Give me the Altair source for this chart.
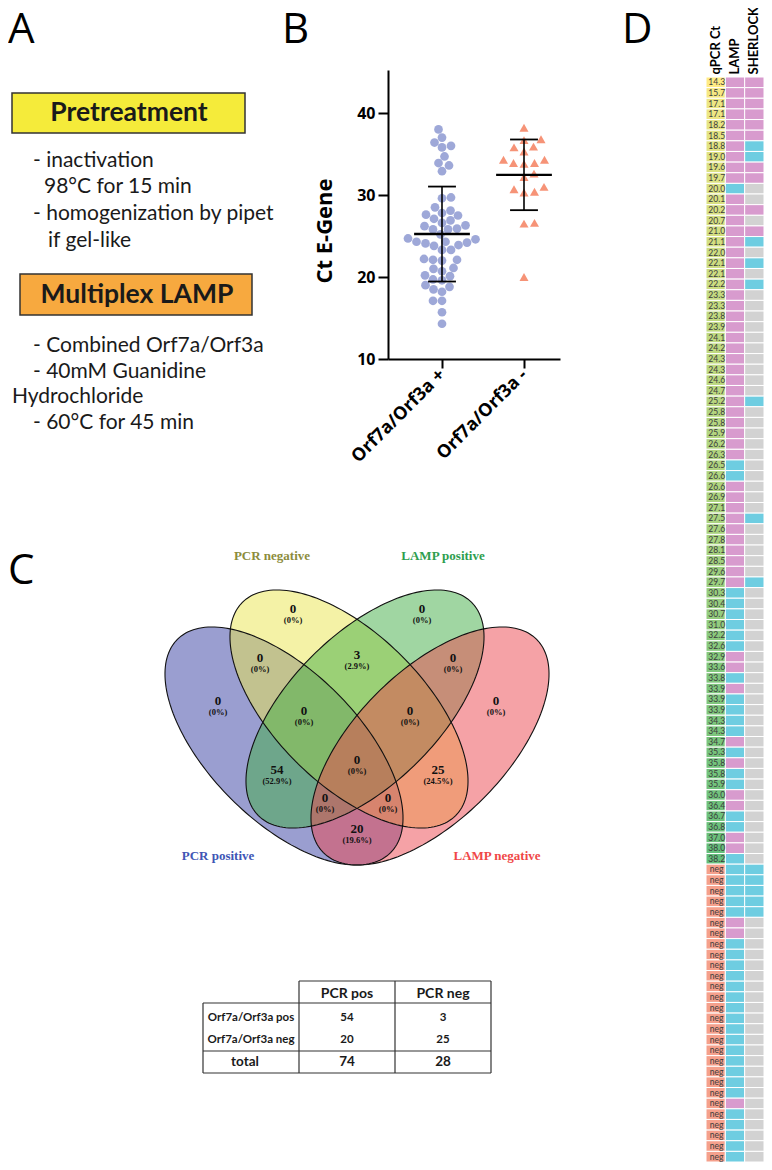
import altair as alt
import numpy as np
import pandas as pd

# ===================== DATA =====================
# Panel D: qPCR Ct values of the PCR-positive samples (top to bottom)
ct_values = [14.3, 15.7, 17.1, 17.1, 18.2, 18.5, 18.8, 19.0, 19.6, 19.7,
             20.0, 20.1, 20.2, 20.7, 21.0, 21.1, 22.0, 22.1, 22.1, 22.2,
             23.3, 23.3, 23.8, 23.9, 24.1, 24.2, 24.3, 24.3, 24.6, 24.7,
             25.2, 25.8, 25.8, 25.9, 26.2, 26.3, 26.5, 26.6, 26.6, 26.9,
             27.1, 27.5, 27.6, 27.8, 28.1, 28.5, 29.6, 29.7,
             30.3, 30.4, 30.7, 31.0, 32.2, 32.6, 32.9, 33.6, 33.8, 33.9,
             33.9, 33.9, 34.3, 34.3, 34.7, 35.3, 35.8, 35.8, 35.9, 36.0,
             36.4, 36.7, 36.8, 37.0, 38.0, 38.2]
n_pcr_negative = 28
# P = positive, N = negative, - = not detected / not tested
lamp_result = list("PPPPPPPPPP" + "NPPPPPPPPP"
                   + "PPPPPPPPPP" + "PPPPPPNNPP"
                   + "PPPPPPPP"
                   + "NNNNNNPPNPNNNNPNPNNPPNNPPN"
                   + "NNNNN" + "PP" + "N" * 15 + "P" + "NNNNN")
sherlock_result = list("PPPPPPNNPP" + "--P-PN-N-N"
                       + "----------" + "N---------"
                       + "-N-----N"
                       + "-" * 26
                       + "NNNNN" + "-" * 23)
heat_columns = ["qPCR Ct", "LAMP", "SHERLOCK"]

# Panel B groups
group_names = ["Orf7a/Orf3a +", "Orf7a/Orf3a -"]

# Panel C: Venn diagram
venn_sets = ["PCR positive", "PCR negative", "LAMP positive", "LAMP negative"]
venn_regions = ["PCRneg", "LAMPpos", "PCRneg&LAMPpos", "PCRpos&PCRneg", "LAMPpos&LAMPneg",
                "PCRpos", "LAMPneg", "PCRpos&PCRneg&LAMPpos", "PCRneg&LAMPpos&LAMPneg",
                "PCRpos&LAMPpos", "all", "PCRneg&LAMPneg", "PCRpos&LAMPpos&LAMPneg",
                "PCRpos&PCRneg&LAMPneg", "PCRpos&LAMPneg"]
venn_counts = [0, 0, 3, 0, 0, 0, 0, 0, 0, 54, 0, 25, 0, 0, 20]

# Panel C: table
table_cols = ["PCR pos", "PCR neg"]
table_rows = ["Orf7a/Orf3a pos", "Orf7a/Orf3a neg", "total"]
table_vals = [[54, 3], [20, 25], [74, 28]]

# Panel A text
pretreat_title = "Pretreatment"
pretreat_lines = ["- inactivation", "98°C for 15 min", "- homogenization by pipet", "if gel-like"]
lamp_title = "Multiplex LAMP"
lamp_lines = ["- Combined Orf7a/Orf3a", "- 40mM Guanidine", "Hydrochloride", "- 60°C for 45 min"]

# ===================== LAYOUT HELPERS =====================
W, H = 756, 1154
M = 8  # page margin


def cxs():
    return alt.Scale(domain=[0, 772], range=[-M, 772 - M], nice=False, zero=False)


def cys():
    return alt.Scale(domain=[0, 1170], range=[-M, 1170 - M], nice=False, zero=False)


def CX(f="x"):
    return alt.X(f"{f}:Q", scale=cxs(), axis=None)


def CY(f="y"):
    return alt.Y(f"{f}:Q", scale=cys(), axis=None)


def text_layer(xs_, ys_, ts, **kw):
    df = pd.DataFrame({"x": xs_, "y": ys_, "t": ts})
    return alt.Chart(df).mark_text(**kw).encode(x=CX(), y=CY(), text="t:N")


canvas = []

# ---- panel letters
canvas.append(text_layer([8, 282, 8, 622], [43, 43, 584, 43], ["A", "B", "C", "D"],
                         font="Open Sans", fontSize=42, align="left", baseline="alphabetic",
                         color="black"))

# ---- panel A
boxes = pd.DataFrame({"x": [12, 20], "x2": [245, 252], "y": [93, 274], "y2": [133, 315],
                      "fill": ["#F5EB3A", "#F7A93F"]})
canvas.append(alt.Chart(boxes).mark_rect(stroke="#333333", strokeWidth=1.5).encode(
    x=CX("x"), x2="x2:Q", y=CY("y"), y2="y2:Q", fill=alt.Fill("fill:N", scale=None)))
canvas.append(text_layer([129, 137], [113, 295], [pretreat_title, lamp_title],
                         font="Lato", fontWeight="bold", fontSize=26.5, color="#1a1a1a"))
canvas.append(text_layer([33, 44, 33, 48], [161, 187, 214, 241], pretreat_lines,
                         font="Lato", fontSize=21, align="left", color="#1a1a1a"))
canvas.append(text_layer([33, 33, 12, 33], [346, 372, 397, 423], lamp_lines,
                         font="Lato", fontSize=21, align="left", color="#1a1a1a"))

# ---- panel B title
canvas.append(text_layer([325], [231], ["Ct E-Gene"], font="Open Sans", fontWeight="bold",
                         fontSize=22, angle=270, color="black"))

# ---- panel C Venn
a_px, b_px = 150.8, 74.8
ratio = b_px / a_px
tt = np.linspace(0, 2 * np.pi, 180, endpoint=False)
ELL = "M" + "L".join(f"{np.cos(t):.4f},{ratio * np.sin(t):.4f}" for t in tt) + "Z"
ell_size = (2 * a_px) ** 2
venn_df = pd.DataFrame({
    "set": venn_sets,
    "x": [284, 349, 365, 430],
    "y": [746, 709, 709, 746],
    "ang": [45, 45, 135, 135],
    "fill": ["#353DA1", "#E9E54D", "#41AD45", "#EB454D"],
})
canvas.append(alt.Chart(venn_df).mark_point(shape=ELL, size=ell_size, filled=True, opacity=1,
                                            fillOpacity=0.5, strokeWidth=0).encode(
    x=CX(), y=CY(), angle=alt.Angle("ang:Q", scale=None), fill=alt.Fill("fill:N", scale=None)))
canvas.append(alt.Chart(venn_df).mark_point(shape=ELL, size=ell_size, filled=False, opacity=1,
                                            stroke="#111111", strokeWidth=1.1).encode(
    x=CX(), y=CY(), angle=alt.Angle("ang:Q", scale=None)))

venn_lx = [293, 422, 357, 260, 453, 218, 496, 304, 410, 277, 357, 438, 325, 388, 357]
venn_ly = [609, 609, 655, 658, 658, 701, 701, 711, 711, 770, 760, 770, 798, 798, 829]
venn_total = sum(venn_counts)
pct = ["(0%)" if c == 0 else f"({100 * c / venn_total:.1f}%)" for c in venn_counts]
canvas.append(text_layer(venn_lx, venn_ly, [str(c) for c in venn_counts],
                         font="Liberation Serif", fontWeight="bold", fontSize=13, color="#111111"))
canvas.append(text_layer(venn_lx, [v + 11 for v in venn_ly], pct,
                         font="Liberation Serif", fontWeight="bold", fontSize=8.5, color="#111111"))
set_lab = pd.DataFrame({"x": [218, 272, 443, 497], "y": [856, 556, 556, 856], "t": venn_sets,
                        "c": ["#4055B5", "#8C8C3C", "#2E9E4E", "#F04747"]})
canvas.append(alt.Chart(set_lab).mark_text(font="Liberation Serif", fontWeight="bold",
                                           fontSize=13).encode(
    x=CX(), y=CY(), text="t:N", color=alt.Color("c:N", scale=None)))

# ---- panel C table
tl = pd.DataFrame({
    "x": [299, 203, 203, 203, 299, 395, 491, 203],
    "x2": [491, 491, 491, 491, 299, 395, 491, 203],
    "y": [981, 1003, 1051, 1073, 981, 981, 981, 1003],
    "y2": [981, 1003, 1051, 1073, 1073, 1073, 1073, 1073],
})
canvas.append(alt.Chart(tl).mark_rule(color="#333333", strokeWidth=1.2).encode(
    x=CX("x"), x2="x2:Q", y=CY("y"), y2="y2:Q"))
col_x = [347, 443]
row_y = [1018, 1040, 1062]
canvas.append(text_layer(col_x, [994, 994], table_cols, font="Lato", fontWeight="bold",
                         fontSize=14, color="#1a1a1a"))
canvas.append(text_layer([251, 251], row_y[:2], table_rows[:2], font="Lato", fontWeight="bold",
                         fontSize=11.5, color="#1a1a1a"))
canvas.append(text_layer([245], row_y[2:], table_rows[2:], font="Lato", fontWeight="bold",
                         fontSize=13.5, color="#1a1a1a"))
vx, vy, vt = [], [], []
for ri in range(2):
    for ci in range(2):
        vx.append(col_x[ci]); vy.append(row_y[ri]); vt.append(str(table_vals[ri][ci]))
canvas.append(text_layer(vx, vy, vt, font="Lato", fontWeight="bold", fontSize=11.5, color="#1a1a1a"))
canvas.append(text_layer(col_x, [row_y[2]] * 2, [str(v) for v in table_vals[2]], font="Lato",
                         fontWeight="bold", fontSize=13.5, color="#1a1a1a"))

canvas_layer = alt.layer(*canvas)

# ===================== PANEL B: scatter =====================
g_vals = {1: [], 2: []}
for ct, lr in zip(ct_values, lamp_result[:len(ct_values)]):
    g_vals[1 if lr == "P" else 2].append(ct)

PPU_Y = 8.2   # px per Ct unit
PPU_X = 82.0  # px per group unit


def swarm(values, diam):
    vals = np.asarray(values, float)
    order = np.argsort(vals, kind="stable")
    placed = []
    off = np.zeros(len(vals))
    for k, i in enumerate(order):
        y = vals[i] * PPU_Y
        chosen = None
        step = 0.0
        while chosen is None:
            for s in ((1, -1) if k % 2 == 0 else (-1, 1)):
                x = s * step
                if all((x - px) ** 2 + (y - py) ** 2 >= diam ** 2 for px, py in placed):
                    chosen = x
                    break
            step += 0.5
        off[i] = chosen
        placed.append((chosen, y))
    return off


frames = []
for g in (1, 2):
    off = swarm(g_vals[g], 8.8 if g == 1 else 10.5)
    frames.append(pd.DataFrame({"ct": g_vals[g], "g": g, "grp": group_names[g - 1],
                                "xpos": g + off / PPU_X}))
sc_df = pd.concat(frames, ignore_index=True)

sx = alt.Scale(domain=[1 - 54 / PPU_X, 1 + 118 / PPU_X], range=[388 - M, 560 - M], nice=False, zero=False)
sy = alt.Scale(domain=[10, 10 + (359 - 70) / PPU_Y], range=[359 - M, 70 - M], nice=False, zero=False)
label_expr = f"datum.value == 1 ? '{group_names[0]}' : '{group_names[1]}'"


def yaxis():
    return alt.Axis(orient="left", offset=-(388 - M), values=[10, 20, 30, 40], title=None, grid=False,
                    domainColor="black", domainWidth=2, tickColor="black", tickWidth=2, tickSize=10,
                    labelFont="Open Sans", labelFontWeight="bold", labelFontSize=16,
                    labelColor="black", labelPadding=3)


def xaxis():
    return alt.Axis(orient="bottom", offset=(359 - M) - H, values=[1, 2], labelExpr=label_expr,
                    labelAngle=315, labelAlign="right", labelBaseline="middle", title=None,
                    grid=False, domainColor="black", domainWidth=2, tickColor="black", tickWidth=2,
                    tickSize=9, labelFont="Open Sans", labelFontWeight="bold", labelFontSize=18,
                    labelColor="black", labelPadding=4)


def SX(f):
    return alt.X(f"{f}:Q", scale=sx, axis=xaxis())


def SY(f):
    return alt.Y(f"{f}:Q", scale=sy, axis=yaxis())


pts1 = alt.Chart(sc_df).transform_filter("datum.g == 1").mark_point(
    shape="circle", filled=True, size=76, color="#6373C0", opacity=0.62).encode(
    x=SX("xpos"), y=SY("ct"))
pts2 = alt.Chart(sc_df).transform_filter("datum.g == 2").mark_point(
    shape="triangle-up", filled=True, size=82, color="#F4805F", opacity=0.85).encode(
    x=SX("xpos"), y=SY("ct"))
agg = alt.Chart(sc_df).transform_aggregate(
    m="mean(ct)", sd="stdev(ct)", groupby=["g"]).transform_calculate(
    lo="datum.m - datum.sd", hi="datum.m + datum.sd",
    xl="datum.g - 0.34", xr="datum.g + 0.34", cl="datum.g - 0.17", cr="datum.g + 0.17")
vline = agg.mark_rule(color="black", strokeWidth=1.6).encode(x=SX("g"), y=SY("lo"), y2="hi:Q")
mline = agg.mark_rule(color="black", strokeWidth=2.4).encode(x=SX("xl"), x2="xr:Q", y=SY("m"))
cap_lo = agg.mark_rule(color="black", strokeWidth=1.8).encode(x=SX("cl"), x2="cr:Q", y=SY("lo"))
cap_hi = agg.mark_rule(color="black", strokeWidth=1.8).encode(x=SX("cl"), x2="cr:Q", y=SY("hi"))
scatter_layer = alt.layer(pts1, pts2, vline, mline, cap_lo, cap_hi)

# ===================== PANEL D: heatmap =====================
n_rows = len(ct_values) + n_pcr_negative
ct_all = ct_values + [None] * n_pcr_negative
heat_df = pd.DataFrame({
    "row": list(range(n_rows)),
    "ct": ct_all,
    "label": [f"{v:.1f}" if v is not None else "neg" for v in ct_all],
    "LAMP": lamp_result,
    "SHERLOCK": sherlock_result,
})
res_names = {"P": "positive", "N": "negative", "-": "not detected"}
long_df = heat_df.melt(id_vars=["row"], value_vars=["LAMP", "SHERLOCK"], var_name="col", value_name="res")
long_df["res"] = long_df["res"].map(res_names)

hx = alt.Scale(domain=heat_columns, range=[706 - M, 764 - M], paddingInner=0, paddingOuter=0)
hy = alt.Scale(domain=list(range(n_rows)), range=[77 - M, 1162 - M], paddingInner=0, paddingOuter=0)


def HX(f="col"):
    return alt.X(f"{f}:N", scale=hx, axis=alt.Axis(
        orient="top", offset=-(77 - M), labelAngle=270, labelAlign="left", labelBaseline="middle",
        labelPadding=3, labelFont="Lato", labelFontWeight="bold", labelFontSize=13,
        labelColor="black", domain=False, ticks=False, title=None))


HY = alt.Y("row:O", scale=hy, axis=None)

ct_rect = alt.Chart(heat_df).transform_filter("datum.ct != null").transform_calculate(
    col="'qPCR Ct'").mark_rect(stroke="white", strokeWidth=1).encode(
    x=HX(), y=HY,
    color=alt.Color("ct:Q", scale=alt.Scale(domain=[min(ct_values), max(ct_values)],
                                            range=["#FFEB84", "#63BE7B"], interpolate="rgb"),
                    legend=None))
neg_rect = alt.Chart(heat_df).transform_filter("datum.ct == null").transform_calculate(
    col="'qPCR Ct'").mark_rect(stroke="white", strokeWidth=1, color="#F5A08C").encode(x=HX(), y=HY)
res_rect = alt.Chart(long_df).mark_rect(stroke="white", strokeWidth=1).encode(
    x=HX(), y=HY,
    color=alt.Color("res:N", scale=alt.Scale(domain=["positive", "negative", "not detected"],
                                             range=["#D89BCE", "#6ECDE1", "#D2D2D2"]), legend=None))
ct_text = alt.Chart(heat_df).transform_calculate(col="'qPCR Ct'").mark_text(
    font="Lato", fontSize=8.5, color="#3c3c3c", dx=1).encode(x=HX(), y=HY, text="label:N")
heat_layer = alt.layer(ct_rect, neg_rect, res_rect, ct_text).resolve_scale(color="independent")

# ===================== ASSEMBLE =====================
chart = alt.layer(canvas_layer, scatter_layer, heat_layer).resolve_scale(
    x="independent", y="independent", color="independent", fill="independent"
).properties(
    width=W, height=H, padding=0, autosize=alt.AutoSizeParams(type="none")
).configure_view(stroke=None)

chart.save("out.html", embed_options={"renderer": "svg", "actions": False})
